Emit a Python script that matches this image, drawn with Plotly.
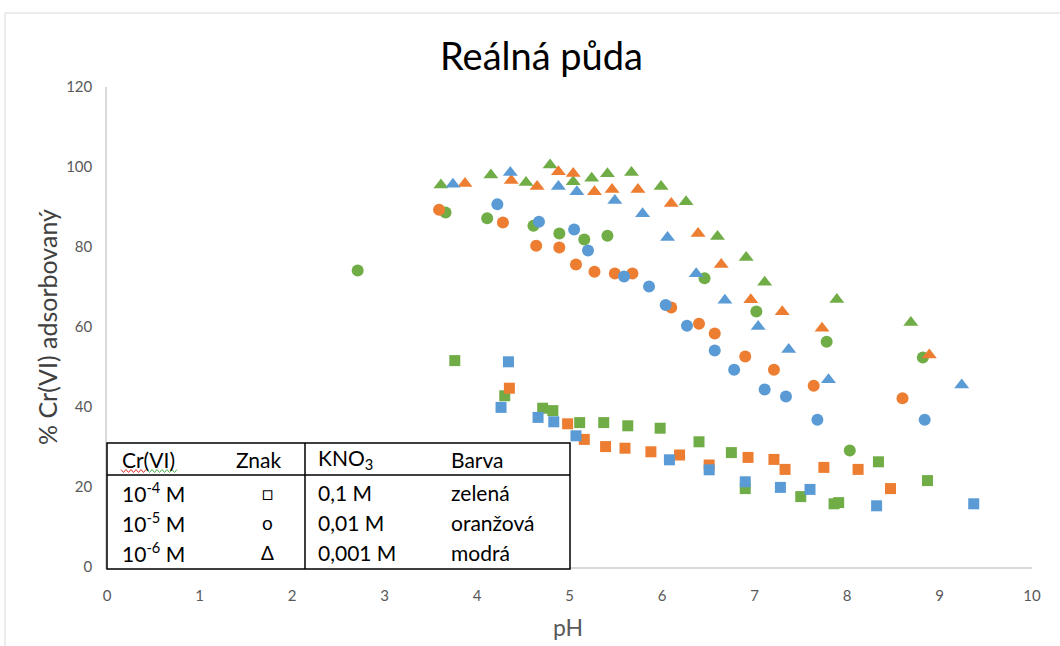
import plotly.graph_objects as go

# ---------------- data ----------------
# Triangles (Cr(VI) 1e-6 M)
tri_green_x = [3.61, 4.15, 4.53, 4.79, 5.04, 5.24, 5.41, 5.67, 5.99, 6.26, 6.60, 6.91, 7.11, 7.89, 8.69]
tri_green_y = [95.5, 98.0, 96.1, 100.5, 96.3, 97.2, 98.3, 98.6, 95.1, 91.3, 82.6, 77.4, 71.2, 66.9, 61.1]
tri_orange_x = [3.87, 4.37, 4.65, 4.88, 5.04, 5.27, 5.46, 5.74, 6.10, 6.39, 6.64, 6.96, 7.30, 7.73, 8.89]
tri_orange_y = [95.9, 96.6, 95.1, 98.8, 98.4, 93.8, 94.4, 94.4, 90.9, 83.4, 75.6, 66.8, 63.8, 59.7, 53.0]
tri_blue_x = [3.74, 4.36, 4.88, 5.08, 5.49, 5.79, 6.06, 6.37, 6.68, 7.04, 7.37, 7.80, 9.24]
tri_blue_y = [95.7, 98.6, 95.1, 93.8, 91.6, 88.3, 82.4, 73.3, 66.7, 60.1, 54.4, 46.8, 45.5]

# Circles (Cr(VI) 1e-5 M)
cir_green_x = [2.71, 3.66, 4.11, 4.61, 4.89, 5.16, 5.41, 6.46, 7.02, 7.78, 8.03, 8.82]
cir_green_y = [74.1, 88.6, 87.2, 85.3, 83.4, 81.9, 82.8, 72.2, 63.9, 56.3, 29.1, 52.4]
cir_orange_x = [3.59, 4.28, 4.64, 4.89, 5.07, 5.27, 5.49, 5.68, 6.10, 6.40, 6.57, 6.90, 7.21, 7.64, 8.60]
cir_orange_y = [89.3, 86.1, 80.3, 79.9, 75.6, 73.8, 73.4, 73.4, 64.9, 60.8, 58.4, 52.6, 49.3, 45.3, 42.2]
cir_blue_x = [4.22, 4.67, 5.05, 5.20, 5.59, 5.86, 6.04, 6.27, 6.57, 6.78, 7.11, 7.34, 7.68, 8.84]
cir_blue_y = [90.7, 86.3, 84.4, 79.1, 72.6, 70.1, 65.5, 60.3, 54.1, 49.3, 44.4, 42.6, 36.8, 36.8]

# Squares (Cr(VI) 1e-4 M)
sq_green_x = [3.76, 4.30, 4.71, 4.82, 5.11, 5.37, 5.63, 5.98, 6.40, 6.75, 6.90, 7.50, 7.86, 7.91, 8.34, 8.87]
sq_green_y = [51.6, 42.8, 39.7, 39.1, 36.1, 36.1, 35.3, 34.7, 31.3, 28.6, 19.6, 17.6, 15.8, 16.1, 26.3, 21.6]
sq_orange_x = [4.35, 4.98, 5.16, 5.39, 5.60, 5.88, 6.19, 6.51, 6.93, 7.21, 7.33, 7.75, 8.12, 8.47]
sq_orange_y = [44.7, 35.8, 31.9, 30.1, 29.7, 28.8, 28.0, 25.5, 27.4, 26.9, 24.4, 24.9, 24.4, 19.6]
sq_blue_x = [4.26, 4.34, 4.66, 4.83, 5.07, 6.08, 6.51, 6.90, 7.28, 7.60, 8.32, 9.37]
sq_blue_y = [39.9, 51.3, 37.4, 36.3, 32.8, 26.8, 24.3, 21.3, 19.9, 19.4, 15.3, 15.8]

x_ticks = [0, 1, 2, 3, 4, 5, 6, 7, 8, 9, 10]
y_ticks = [0, 20, 40, 60, 80, 100, 120]

table_header = ["Cr(VI)", "Znak", "KNO<sub>3</sub>", "Barva"]
table_rows = [
    ["10<sup>-4</sup> M", "\u25a1", "0,1 M", "zelená"],
    ["10<sup>-5</sup> M", "o", "0,01 M", "oranžová"],
    ["10<sup>-6</sup> M", "\u0394", "0,001 M", "modrá"],
]

GREEN = "#70AD47"
ORANGE = "#ED7D31"
BLUE = "#5B9BD5"
FONT = "Lato"

fig = go.Figure()

series = [
    (sq_green_x, sq_green_y, GREEN, "square", 11),
    (sq_orange_x, sq_orange_y, ORANGE, "square", 11),
    (sq_blue_x, sq_blue_y, BLUE, "square", 11),
    (cir_green_x, cir_green_y, GREEN, "circle", 12),
    (cir_orange_x, cir_orange_y, ORANGE, "circle", 12),
    (cir_blue_x, cir_blue_y, BLUE, "circle", 12),
    (tri_green_x, tri_green_y, GREEN, "triangle-up", 13),
    (tri_orange_x, tri_orange_y, ORANGE, "triangle-up", 13),
    (tri_blue_x, tri_blue_y, BLUE, "triangle-up", 13),
]
for xs, ys, col, sym, sz in series:
    fig.add_trace(go.Scatter(
        x=xs, y=ys, mode="markers",
        marker=dict(color=col, symbol=sym, size=sz, line=dict(width=0)),
        showlegend=False, cliponaxis=False,
    ))

# plot-area geometry (pixels)
W, H = 1060, 646
L, R, T, B = 107, 1032, 87, 567


def px(xp):
    return (xp - L) / (R - L)


def py(yp):
    return (B - yp) / (B - T)


def wavy(x0, x1, y, amp=1.5, step=2.5):
    pts = []
    x = x0
    k = 0
    while x <= x1:
        yy = y + (amp if k % 2 else -amp)
        pts.append((px(x), py(yy)))
        x += step
        k += 1
    return "M " + " L ".join(f"{a:.5f},{b:.5f}" for a, b in pts)


shapes = []
# outer chart frame
shapes.append(dict(type="rect", xref="paper", yref="paper",
                   x0=px(5), x1=px(1075), y0=py(13), y1=py(700),
                   line=dict(color="#D9D9D9", width=1), fillcolor="rgba(0,0,0,0)", layer="below"))
# table
tl, tr, tt, tb = 107, 570, 443, 569
shapes.append(dict(type="rect", xref="paper", yref="paper",
                   x0=px(tl), x1=px(tr), y0=py(tb), y1=py(tt),
                   line=dict(color="black", width=1.5), fillcolor="white", layer="above"))
shapes.append(dict(type="line", xref="paper", yref="paper",
                   x0=px(tl), x1=px(tr), y0=py(475), y1=py(475),
                   line=dict(color="black", width=1.5), layer="above"))
shapes.append(dict(type="line", xref="paper", yref="paper",
                   x0=px(305), x1=px(305), y0=py(tb), y1=py(tt),
                   line=dict(color="black", width=1.5), layer="above"))
# spell-check wavy underline under "Cr(VI)"
shapes.append(dict(type="path", xref="paper", yref="paper", path=wavy(121, 147, 471),
                   line=dict(color="#E03030", width=1), layer="above"))
shapes.append(dict(type="path", xref="paper", yref="paper", path=wavy(147, 178, 471),
                   line=dict(color="#4CAF50", width=1), layer="above"))

annotations = []
# title
annotations.append(dict(text="Reálná půda", xref="paper", yref="paper",
                        x=px(541), y=py(55), showarrow=False,
                        font=dict(family=FONT, size=38, color="#000000"),
                        xanchor="center", yanchor="middle"))
# axis titles
annotations.append(dict(text="% Cr(VI) adsorbovaný", xref="paper", yref="paper",
                        x=px(47), y=py(327), showarrow=False, textangle=-90,
                        font=dict(family=FONT, size=25, color="#404040"),
                        xanchor="center", yanchor="middle"))
annotations.append(dict(text="pH", xref="paper", yref="paper",
                        x=px(568), y=py(627), showarrow=False,
                        font=dict(family=FONT, size=23, color="#595959"),
                        xanchor="center", yanchor="middle"))

col_x = [120, 234, 316, 449]
row_y = [459, 492, 522, 552]
TFS = 21
for j, txt in enumerate(table_header):
    annotations.append(dict(text=txt, xref="paper", yref="paper",
                            x=px(col_x[j]), y=py(row_y[0]), showarrow=False,
                            font=dict(family=FONT, size=TFS, color="#000000"),
                            xanchor="left", yanchor="middle"))
for i, row in enumerate(table_rows):
    for j, txt in enumerate(row):
        if j == 1:
            annotations.append(dict(text=txt, xref="paper", yref="paper",
                                    x=px(267), y=py(row_y[i + 1]), showarrow=False,
                                    font=dict(family=FONT, size=19, color="#000000"),
                                    xanchor="center", yanchor="middle"))
        else:
            annotations.append(dict(text=txt, xref="paper", yref="paper",
                                    x=px(col_x[j]), y=py(row_y[i + 1]), showarrow=False,
                                    font=dict(family=FONT, size=TFS, color="#000000"),
                                    xanchor="left", yanchor="middle"))

fig.update_layout(
    width=W, height=H,
    margin=dict(l=L, r=W - R, t=T, b=H - B, pad=0),
    paper_bgcolor="white", plot_bgcolor="white",
    showlegend=False,
    shapes=shapes,
    annotations=annotations,
    font=dict(family=FONT),
)
fig.update_xaxes(
    range=[0, 10], tickvals=x_ticks, ticktext=[str(v) for v in x_ticks],
    showgrid=False, zeroline=False, showline=True, linecolor="#D9D9D9", linewidth=1.5,
    ticks="", tickfont=dict(family=FONT, size=15, color="#595959"),
    ticklabelstandoff=14,
)
fig.update_yaxes(
    range=[0, 120], tickvals=y_ticks, ticktext=[str(v) for v in y_ticks],
    showgrid=False, zeroline=False, showline=True, linecolor="#D9D9D9", linewidth=1.5,
    ticks="", tickfont=dict(family=FONT, size=15, color="#595959"),
    ticklabelstandoff=10,
)

fig.write_html("out.html")
